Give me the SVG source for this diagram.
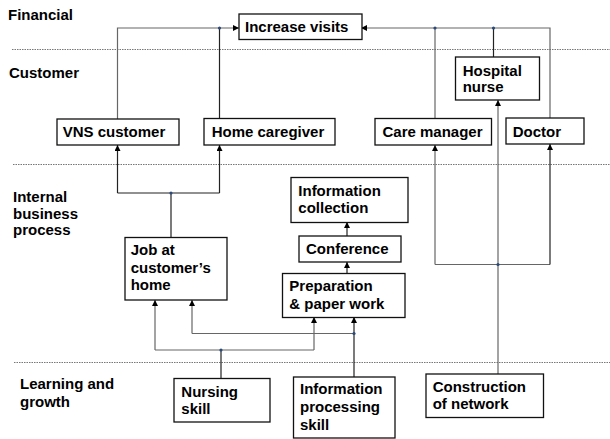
<svg xmlns="http://www.w3.org/2000/svg" width="610" height="439" viewBox="0 0 610 439">
<defs>
<marker id="arr" markerUnits="userSpaceOnUse" markerWidth="6" markerHeight="6" refX="6" refY="3" orient="auto">
<path d="M0,0 L6,3 L0,6 z" fill="#000"/>
</marker>
</defs>
<style>
text{font-family:"Liberation Sans",Arial,sans-serif;font-weight:bold;font-size:15px;fill:#000}
.box{fill:#fff;stroke:#111;stroke-width:1.3}
.sep{stroke:#777;stroke-width:1;stroke-dasharray:1.5,1}
.c{fill:none;stroke:#222;stroke-width:1.2}
.g{fill:none;stroke:#666;stroke-width:1.2}
.a{marker-end:url(#arr)}
.dot{fill:#2b4a7a}
</style>
<rect width="610" height="439" fill="#fff"/>
<g id="lanes">
<line class="sep" x1="12" y1="49.5" x2="610" y2="49.5"/>
<line class="sep" x1="13" y1="164.5" x2="610" y2="164.5"/>
<line class="sep" x1="14" y1="362.5" x2="610" y2="362.5"/>
<text x="8" y="20">Financial</text>
<text x="9" y="78">Customer</text>
<text x="13" y="201.5">Internal</text>
<text x="13" y="218.5">business</text>
<text x="13" y="235">process</text>
<text x="20" y="389">Learning and</text>
<text x="20" y="406.5">growth</text>
</g>
<g id="connectors">
<polyline class="g a" points="117.5,119 117.5,28 239,28"/>
<polyline class="c" points="219.5,118 219.5,28"/>
<polyline class="g a" points="550,118 550,28 361,28"/>
<polyline class="g" points="435,118 435,28"/>
<polyline class="c" points="493.5,57 493.5,28"/>
<polyline class="c" points="171,237 171,193"/>
<polyline class="c" points="117.5,193 219.5,193"/>
<polyline class="c a" points="117.5,193 117.5,145"/>
<polyline class="c a" points="219.5,193 219.5,145"/>
<polyline class="g a" points="498,374 498,100"/>
<polyline class="g" points="435,264.5 550,264.5"/>
<polyline class="g a" points="435,264.5 435,145"/>
<polyline class="c a" points="550,264.5 550,144"/>
<polyline class="c a" points="347,273 347,262"/>
<polyline class="c a" points="347,236 347,222"/>
<polyline class="c" points="221,378 221,350"/>
<polyline class="g" points="155,350 314,350"/>
<polyline class="g a" points="155,350 155,300"/>
<polyline class="g a" points="314,350 314,317"/>
<polyline class="c a" points="354,377 354,317"/>
<polyline class="g" points="192,333.5 354,333.5"/>
<polyline class="g a" points="192,333.5 192,300"/>
<circle class="dot" cx="219.5" cy="28" r="1.6"/>
<circle class="dot" cx="435" cy="28" r="1.6"/>
<circle class="dot" cx="493.5" cy="28" r="1.6"/>
<circle class="dot" cx="171" cy="193" r="1.6"/>
<circle class="dot" cx="498" cy="264.5" r="1.6"/>
<circle class="dot" cx="221" cy="350" r="1.6"/>
<circle class="dot" cx="354" cy="333.5" r="1.6"/>
</g>
<g id="increase-visits"><rect class="box" x="239" y="14" width="123" height="25.5"/><text x="245" y="31.7">Increase visits</text></g>
<g id="vns-customer"><rect class="box" x="57" y="119" width="122" height="26"/><text x="62.7" y="137.3">VNS customer</text></g>
<g id="home-caregiver"><rect class="box" x="204" y="118.5" width="131" height="26.5"/><text x="211.7" y="137">Home caregiver</text></g>
<g id="hospital-nurse"><rect class="box" x="455.5" y="57" width="84" height="43"/><text x="462.7" y="76">Hospital</text><text x="462.7" y="91.7">nurse</text></g>
<g id="care-manager"><rect class="box" x="375" y="118.5" width="116.5" height="26.5"/><text x="382.5" y="137">Care manager</text></g>
<g id="doctor"><rect class="box" x="506" y="118" width="78" height="26"/><text x="512.7" y="137">Doctor</text></g>
<g id="information-collection"><rect class="box" x="291" y="177.5" width="117" height="45"/><text x="298.3" y="195.7">Information</text><text x="298.3" y="213.3">collection</text></g>
<g id="conference"><rect class="box" x="299" y="236" width="102" height="26"/><text x="306" y="254">Conference</text></g>
<g id="preparation"><rect class="box" x="282.5" y="273.5" width="122.5" height="44"/><text x="289.3" y="290.7">Preparation</text><text x="289.3" y="309">&amp; paper work</text></g>
<g id="job"><rect class="box" x="125" y="237.5" width="102" height="62.5"/><text x="130.7" y="255">Job at</text><text x="130.7" y="272.7">customer’s</text><text x="130.7" y="290">home</text></g>
<g id="nursing-skill"><rect class="box" x="174" y="378.5" width="96" height="43.5"/><text x="181.3" y="397.3">Nursing</text><text x="181.3" y="414.3">skill</text></g>
<g id="information-processing-skill"><rect class="box" x="293.5" y="377" width="101.5" height="61"/><text x="300" y="394.3">Information</text><text x="300" y="412.3">processing</text><text x="300" y="430">skill</text></g>
<g id="construction-of-network"><rect class="box" x="426" y="374" width="117.5" height="43.5"/><text x="432.7" y="391.7">Construction</text><text x="432.7" y="409.3">of network</text></g>
</svg>
